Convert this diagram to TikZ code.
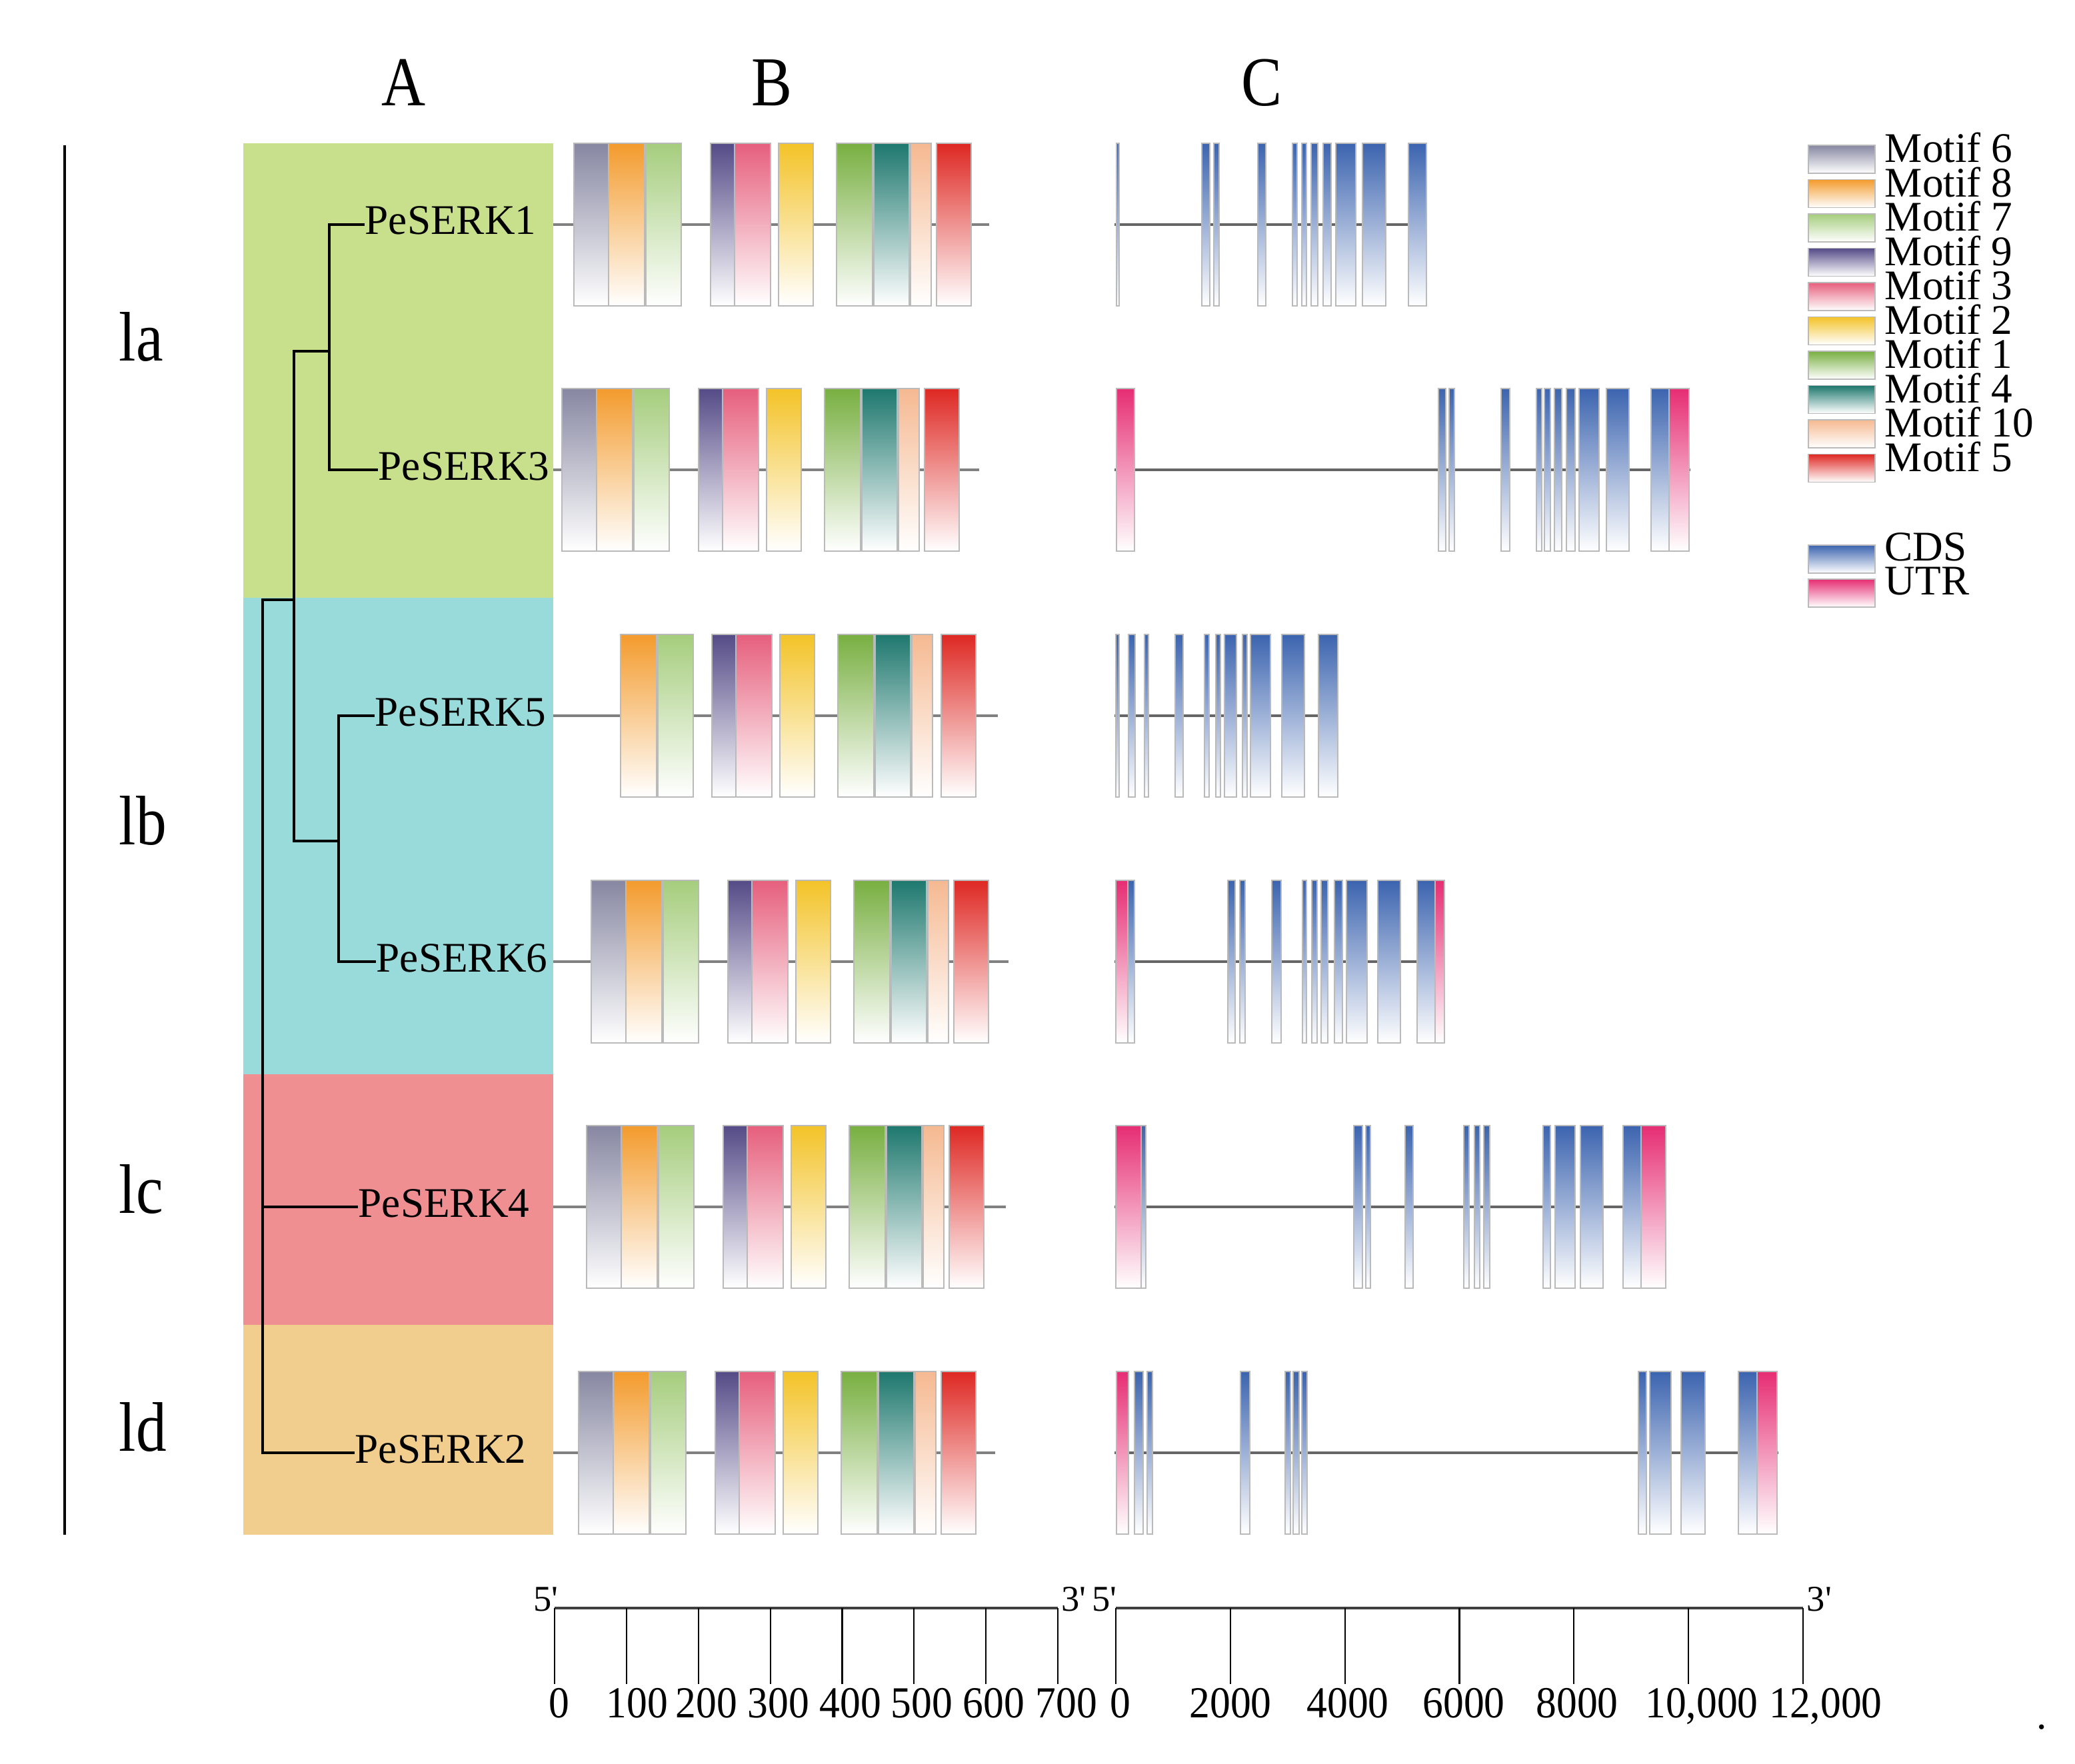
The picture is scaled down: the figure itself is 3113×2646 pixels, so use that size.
\documentclass[tikz,border=0pt]{standalone}
\usepackage{fontspec}
\newfontfamily\rs{Liberation Serif}
\definecolor{pgreen}{RGB}{200,224,140}
\definecolor{pcyan}{RGB}{153,219,219}
\definecolor{ppink}{RGB}{239,143,146}
\definecolor{porange}{RGB}{241,206,142}
\definecolor{m6}{RGB}{135,135,162}
\definecolor{m8}{RGB}{243,155,45}
\definecolor{m7}{RGB}{165,205,125}
\definecolor{m9}{RGB}{85,75,135}
\definecolor{m3}{RGB}{230,95,125}
\definecolor{m2}{RGB}{243,195,40}
\definecolor{m1}{RGB}{120,175,65}
\definecolor{m4}{RGB}{30,120,110}
\definecolor{m10}{RGB}{245,185,145}
\definecolor{m5}{RGB}{222,40,35}
\definecolor{cds}{RGB}{60,100,175}
\definecolor{utr}{RGB}{230,45,115}
\newcommand\bxx[4]{\shade[top color=#4,bottom color=white] (#1,#3-122) rectangle (#2,#3+122);
  \draw[bx] (#1,#3-122) rectangle (#2,#3+122);}
\newcommand\mrow[1]{%
  \bxx{861}{913}{#1}{m6}\bxx{913}{967}{#1}{m8}\bxx{969}{1022}{#1}{m7}%
  \bxx{1066}{1102}{#1}{m9}\bxx{1102}{1156}{#1}{m3}\bxx{1168}{1220}{#1}{m2}%
  \bxx{1255}{1309}{#1}{m1}\bxx{1311}{1364}{#1}{m4}\bxx{1366}{1397}{#1}{m10}%
  \bxx{1405}{1457}{#1}{m5}}
\newcommand\vst[1]{\scalebox{1}[1.15]{#1}}
\newcommand\vsn[1]{\scalebox{1}[1.08]{#1}}
\begin{document}
\begin{tikzpicture}[x=0.01cm,y=-0.01cm,
  tree/.style={line width=1.1pt,black,line cap=rect},
  intron/.style={line width=1.1pt,color=black!50},
  intronc/.style={line width=1.15pt,color=black!60},
  bx/.style={line width=0.45pt,color=black!27},
  gname/.style={font=\rs\fontsize{18}{18}\selectfont,anchor=base west,inner sep=0pt},
  lgtext/.style={font=\rs\fontsize{18}{18}\selectfont,anchor=base west,inner sep=0pt,text height=1.4ex,text depth=0pt},
  title/.style={font=\rs\fontsize{26}{26}\selectfont,anchor=base,inner sep=0pt},
  clade/.style={font=\rs\fontsize{26}{26}\selectfont,anchor=base west,inner sep=0pt},
  num/.style={font=\rs\fontsize{17.5}{18}\selectfont,anchor=base,inner sep=0pt},
  endlab/.style={font=\rs\fontsize{15.5}{16}\selectfont,inner sep=0pt},
  axisline/.style={line width=1.4pt,color=black!75},
  tick/.style={line width=0.6pt,black}]
\useasboundingbox (0,0) rectangle (3113,2646);
\fill[white] (0,0) rectangle (3113,2646);

% titles
\node[title] (tA) at (606,159) {\vst{A}};
\node[title] (tB) at (1158,159) {\vst{B}};
\node[title] (tC) at (1893,159) {\vst{C}};

% left bar and clade labels
\draw[line width=1.1pt] (97,218) -- (97,2303);
\node[clade] (ca) at (178,542) {\vst{la}};
\node[clade] (cb) at (178,1267) {\vst{lb}};
\node[clade] (cc) at (178,1820) {\vst{lc}};
\node[clade] (cd) at (178,2177) {\vst{ld}};

% coloured panels
\fill[pgreen] (365,215) rectangle (830,897);
\fill[pcyan] (365,897) rectangle (830,1612);
\fill[ppink] (365,1612) rectangle (830,1988);
\fill[porange] (365,1988) rectangle (830,2303);

% tree
\coordinate (t1) at (545,337);
\coordinate (t3) at (565,705);
\coordinate (t5) at (560,1074);
\coordinate (t6) at (562,1443);
\coordinate (t4) at (535,1811);
\coordinate (t2) at (530,2180);
\coordinate (la) at (494,527);
\coordinate (lb) at (508,1262);
\coordinate (P) at (441,900);
\coordinate (R) at (394,900);
\draw[tree] (t1) -| (la) |- (t3);
\draw[tree] (t5) -| (lb) |- (t6);
\draw[tree] (la) -| (P) |- (lb);
\draw[tree] (P) -- (R) |- (t4);
\draw[tree] (R) |- (t2);
\node[gname] (n1) at (547,352) {PeSERK1};
\node[gname] (n3) at (567,720) {PeSERK3};
\node[gname] (n5) at (562,1089) {PeSERK5};
\node[gname] (n6) at (564,1458) {PeSERK6};
\node[gname] (n4) at (537,1826) {PeSERK4};
\node[gname] (n2) at (532,2195) {PeSERK2};

% B: motif structures
\draw[intron] (830,337) -- (1484,337);
\draw[intron] (830,705) -- (1469,705);
\draw[intron] (830,1074) -- (1497,1074);
\draw[intron] (830,1443) -- (1513,1443);
\draw[intron] (830,1811) -- (1509,1811);
\draw[intron] (830,2180) -- (1493,2180);
\mrow{337}
\begin{scope}[shift={(-18,0)}]\mrow{705}\end{scope}
\bxx{931}{985}{1074}{m8}\bxx{987}{1040}{1074}{m7}
\bxx{1068}{1104}{1074}{m9}\bxx{1104}{1158}{1074}{m3}\bxx{1170}{1222}{1074}{m2}
\bxx{1257}{1311}{1074}{m1}\bxx{1313}{1366}{1074}{m4}\bxx{1368}{1399}{1074}{m10}
\bxx{1412}{1464}{1074}{m5}
\begin{scope}[shift={(26,0)}]\mrow{1443}\end{scope}
\begin{scope}[shift={(19,0)}]\mrow{1811}\end{scope}
\begin{scope}[shift={(7,0)}]\mrow{2180}\end{scope}

% C: gene structures
\draw[intronc] (1672,337) -- (2140,337);
\draw[intronc] (1672,705) -- (2536,705);
\draw[intronc] (1672,1074) -- (2007,1074);
\draw[intronc] (1672,1443) -- (2168,1443);
\draw[intronc] (1672,1811) -- (2499,1811);
\draw[intronc] (1672,2180) -- (2668,2180);
\foreach \a/\b in {1675/1679,1803/1815,1821/1829,1887/1899,1939/1946,1953/1960,1967/1977,1985/1997,2004/2034,2044/2079,2113/2140}
  {\bxx{\a}{\b}{337}{cds}}
\bxx{1675}{1702}{705}{utr}
\foreach \a/\b in {2158/2169,2174/2182,2252/2265,2305/2313,2317/2326,2332/2343,2350/2363,2369/2399,2410/2444,2477/2504}
  {\bxx{\a}{\b}{705}{cds}}
\bxx{2504}{2534}{705}{utr}
\foreach \a/\b in {1674/1679,1693/1703,1717/1723,1763/1775,1807/1814,1824/1831,1837/1855,1864/1871,1876/1906,1923/1957,1978/2007}
  {\bxx{\a}{\b}{1074}{cds}}
\bxx{1674}{1692}{1443}{utr}
\foreach \a/\b in {1692/1702,1842/1853,1860/1868,1908/1922,1954/1960,1968/1976,1982/1992,2002/2014,2020/2051,2067/2101,2126/2153}
  {\bxx{\a}{\b}{1443}{cds}}
\bxx{2153}{2167}{1443}{utr}
\bxx{1674}{1712}{1811}{utr}
\foreach \a/\b in {1712/1719,2031/2044,2049/2056,2108/2120,2196/2204,2212/2220,2226/2235,2315/2326,2333/2363,2371/2405,2435/2462}
  {\bxx{\a}{\b}{1811}{cds}}
\bxx{2462}{2499}{1811}{utr}
\bxx{1675}{1693}{2180}{utr}
\foreach \a/\b in {1702/1715,1721/1729,1861/1875,1928/1936,1940/1949,1953/1961,2458/2470,2475/2507,2522/2558,2608/2636}
  {\bxx{\a}{\b}{2180}{cds}}
\bxx{2636}{2666}{2180}{utr}

% legend
\foreach \c/\t [count=\i from 0] in {m6/Motif 6,m8/Motif 8,m7/Motif 7,m9/Motif 9,m3/Motif 3,m2/Motif 2,m1/Motif 1,m4/Motif 4,m10/Motif 10,m5/Motif 5}{
  \shade[top color=\c,bottom color=white] (2713,{218+51.5*\i}) rectangle (2813,{260+51.5*\i});
  \draw[bx] (2713,{218+51.5*\i}) rectangle (2813,{260+51.5*\i});
  \node[lgtext] (lg\i) at (2827,{244+51.5*\i}) {\t};
}
\shade[top color=cds,bottom color=white] (2713,818) rectangle (2813,860);
\draw[bx] (2713,818) rectangle (2813,860);
\node[lgtext] (lgcds) at (2827,841) {CDS};
\shade[top color=utr,bottom color=white] (2713,869) rectangle (2813,911);
\draw[bx] (2713,869) rectangle (2813,911);
\node[lgtext] (lgutr) at (2827,892) {UTR};

% scale bars
\draw[axisline] (832,2413) -- (1587,2413);
\foreach \i in {0,...,7} \draw[tick] ({832+107.86*\i},2413) -- ({832+107.86*\i},2527);
\foreach \v/\xx in {0/839,100/956,200/1060,300/1168,400/1276,500/1383,600/1491,700/1600}
  \node[num] (b\v) at (\xx,2577) {\vsn{\v}};
\node[endlab,anchor=base east] (b5) at (838,2417) {5'};
\node[endlab,anchor=base west] (b3) at (1592,2417) {3'};
\draw[axisline] (1674,2413) -- (2705,2413);
\foreach \i in {0,...,6} \draw[tick] ({1674+171.83*\i},2413) -- ({1674+171.83*\i},2527);
\node[num] (c0) at (1681,2577) {\vsn{0}};
\node[num] (c2) at (1846,2577) {\vsn{2000}};
\node[num] (c4) at (2022,2577) {\vsn{4000}};
\node[num] (c6) at (2196,2577) {\vsn{6000}};
\node[num] (c8) at (2366,2577) {\vsn{8000}};
\node[num] (c10) at (2553,2577) {\vsn{10,000}};
\node[num] (c12) at (2739,2577) {\vsn{12,000}};
\node[endlab,anchor=base east] (c5) at (1676,2417) {5'};
\node[endlab,anchor=base west] (c3) at (2710,2417) {3'};
\node[num] (dot) at (3063,2594) {.};
\end{tikzpicture}
\end{document}
